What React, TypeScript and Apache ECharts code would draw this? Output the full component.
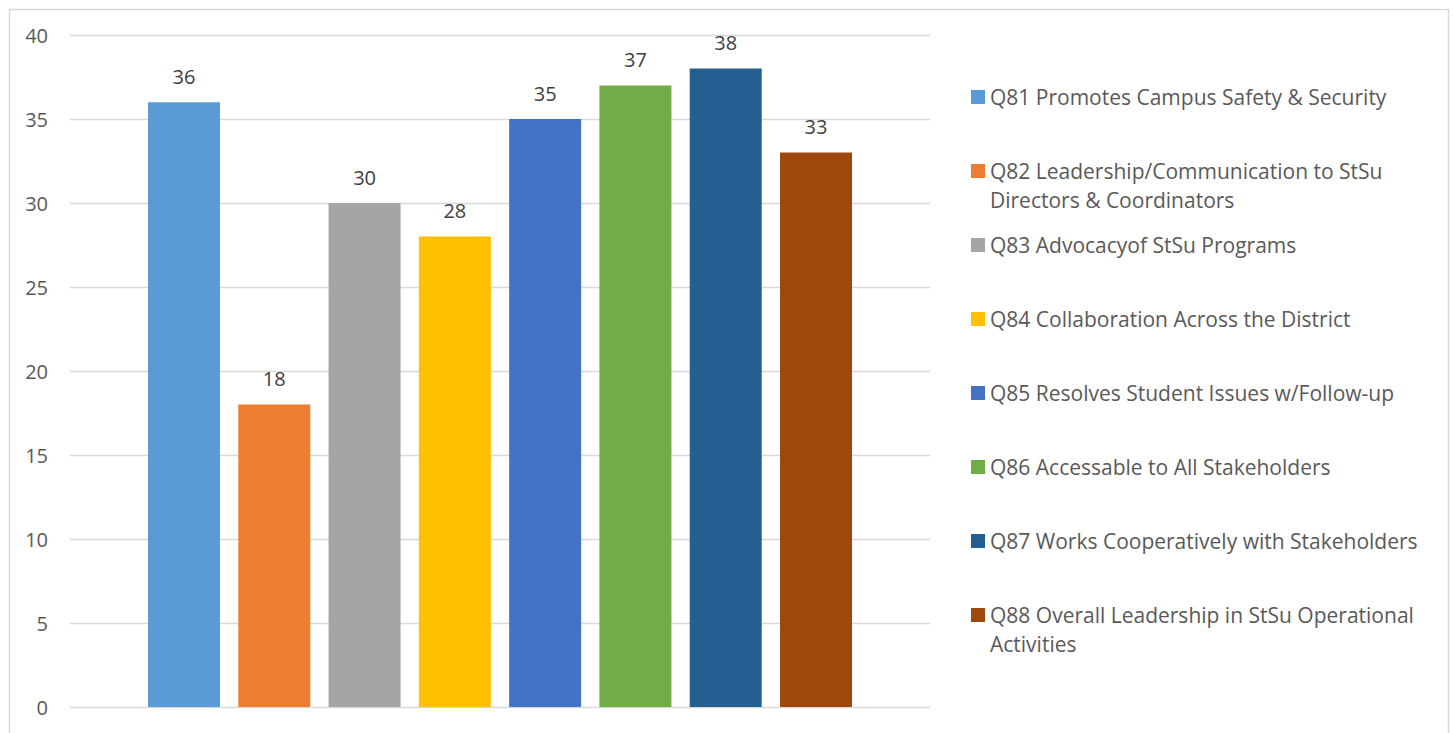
import React, { useEffect, useRef } from "react";
import * as echarts from "echarts";

const categories = [""];
const seriesNames = [
  "Q81 Promotes Campus Safety & Security",
  "Q82 Leadership/Communication to StSu\nDirectors & Coordinators",
  "Q83 Advocacyof StSu Programs",
  "Q84 Collaboration Across the District",
  "Q85 Resolves Student Issues w/Follow-up",
  "Q86 Accessable to All Stakeholders",
  "Q87 Works Cooperatively with Stakeholders",
  "Q88 Overall Leadership in StSu Operational\nActivities",
];
const seriesValues = [36, 18, 30, 28, 35, 37, 38, 33];
const seriesColors = ["#5B9BD5", "#ED7D31", "#A5A5A5", "#FFC000", "#4472C4", "#70AD47", "#255E91", "#9E480E"];
const yTicks = { min: 0, max: 40, interval: 5 };

const FONT = "Open Sans";

export default function App() {
  const ref = useRef<HTMLDivElement>(null);
  useEffect(() => {
    if (!ref.current) return;
    const chart = echarts.init(ref.current, undefined, { renderer: "svg" });
    const legendTop = 97;
    const legendStep = 74;
    const lineH = 29;
    const itemH = 26;
    const legendFont = 21;
    const extraLines: any[] = [];
    seriesNames.forEach((n, i) => {
      const parts = n.split("\n");
      parts.slice(1).forEach((p, j) => {
        extraLines.push({
          type: "text",
          x: 990,
          y: legendTop + i * legendStep + (j + 1) * lineH,
          style: {
            text: p,
            fill: "#595959",
            fontSize: legendFont,
            fontFamily: FONT,
            verticalAlign: "middle",
            align: "left",
          },
        });
      });
    });
    chart.setOption({
      animation: false,
      backgroundColor: "#ffffff",
      grid: { left: 70, right: 523, top: 35, bottom: 26 },
      xAxis: {
        type: "category",
        data: categories,
        axisLine: { show: false },
        axisTick: { show: false },
        axisLabel: { show: false },
      },
      yAxis: {
        type: "value",
        min: yTicks.min,
        max: yTicks.max,
        interval: yTicks.interval,
        axisLine: { show: false },
        axisTick: { show: false },
        axisLabel: { color: "#595959", fontSize: 20, fontFamily: FONT, margin: 22 },
        splitLine: { lineStyle: { color: "#D9D9D9", width: 1.3 } },
      },
      legend: {
        orient: "vertical",
        left: 971,
        top: legendTop - itemH / 2,
        padding: 0,
        itemWidth: 14,
        itemHeight: 14,
        itemGap: legendStep - itemH,
        icon: "rect",
        data: seriesNames,
        formatter: (name: string) => name.split("\n")[0],
        textStyle: { color: "#595959", fontSize: legendFont, fontFamily: FONT, lineHeight: itemH },
        selectedMode: false,
      },
      graphic: [
        {
          type: "rect",
          left: 7,
          top: 7,
          shape: { width: 1439, height: 800 },
          style: { fill: "none", stroke: "#D9D9D9", lineWidth: 1.5 },
          silent: true,
        },
        ...extraLines,
      ],
      series: seriesNames.map((name, i) => ({
        type: "bar",
        name,
        data: [seriesValues[i]],
        barWidth: 72,
        barGap: "25.4%",
        itemStyle: { color: seriesColors[i] },
        label: {
          show: true,
          position: "top",
          distance: 16,
          color: "#404040",
          fontSize: 20,
          fontFamily: FONT,
        },
      })),
    });
    return () => chart.dispose();
  }, []);
  return <div ref={ref} style={{ position: "fixed", left: 0, top: 0, width: 1453, height: 733 }} />;
}
